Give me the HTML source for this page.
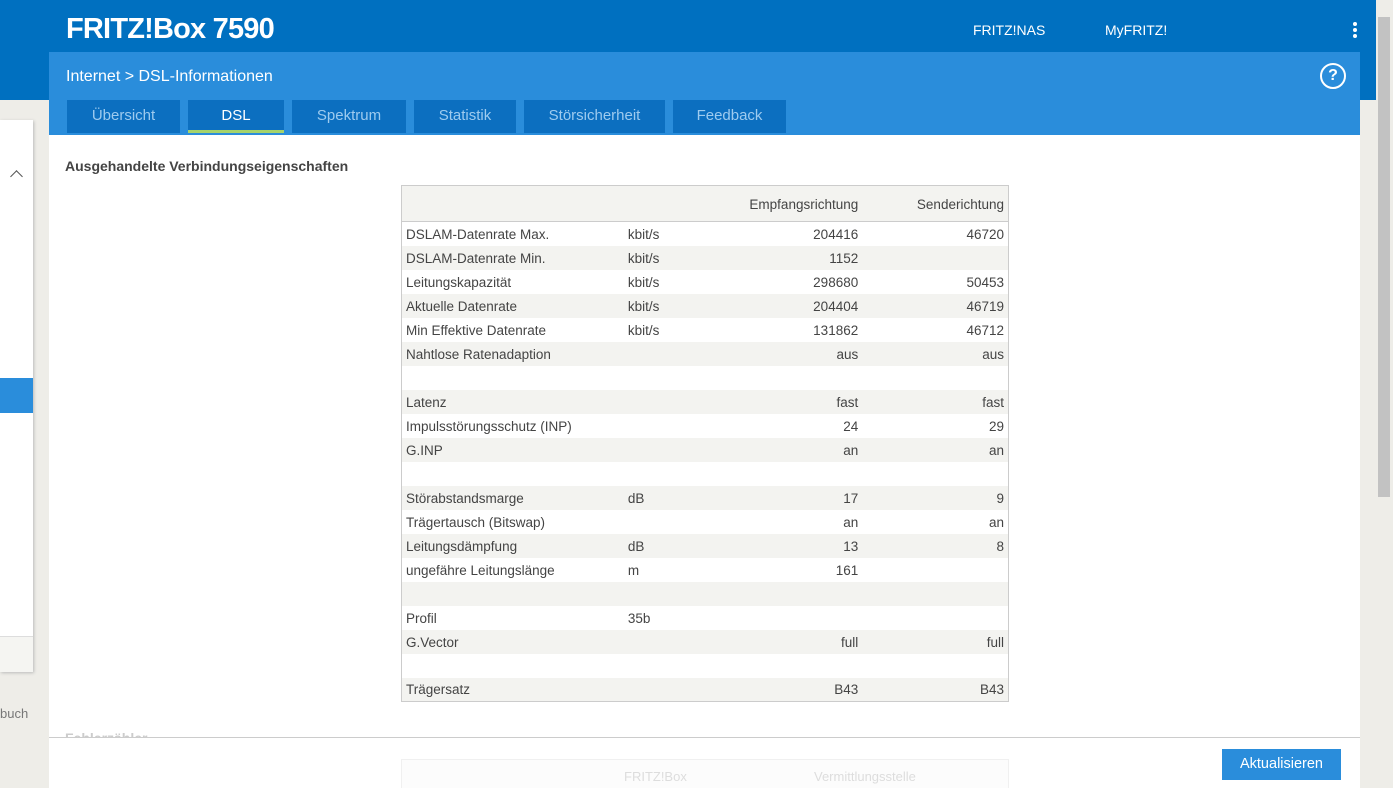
<!DOCTYPE html>
<html><head><meta charset="utf-8"><style>
*{margin:0;padding:0;box-sizing:border-box}
body{width:1393px;height:788px;overflow:hidden;background:#eeede8;font-family:"Liberation Sans",sans-serif;position:relative;color:#333}
.top{position:absolute;left:0;top:0;width:1376px;height:100px;background:#0070c0}
.logo{position:absolute;left:66px;top:13px;color:#fff;font-weight:bold;font-size:29px;letter-spacing:-0.8px}
.nav{position:absolute;top:22px;color:#fff;font-size:14px}
.dots{position:absolute;left:1353px;top:22px;width:5px}
.dots i{display:block;width:4px;height:4px;border-radius:2px;background:#fff;margin-bottom:2px}
.side{position:absolute;left:0;top:120px;width:33px;height:552px;background:#fff;box-shadow:1px 1px 3px #bbb}
.panel{position:absolute;left:49px;top:52px;width:1311px;height:736px;background:#fff}
.phead{position:absolute;left:0;top:0;width:1311px;height:83px;background:#2a8ddb}
.crumb{position:absolute;left:17px;top:16px;color:#fff;font-size:16px}
.help{position:absolute;left:1271px;top:11px;width:26px;height:26px;border:2px solid #fff;border-radius:50%;color:#fff;font-weight:bold;font-size:16px;text-align:center;line-height:22px}
.tab{position:absolute;top:48px;height:33px;background:#0c6fc0;color:#9ecbef;font-size:15px;text-align:center;line-height:32px}
.tab.act{color:#fff;border-bottom:3px solid #a6d36b}
h3{position:absolute;left:16px;top:106px;font-size:14px;font-weight:bold;color:#444}
table{position:absolute;left:352px;top:133px;width:608px;border:1px solid #ccc;border-collapse:collapse;font-size:13.5px;color:#444}
td{height:24px;padding:0 4px;white-space:nowrap;padding-top:1px}
tr.h td{height:36px;background:#f3f3f0;border-bottom:1px solid #ccc}
tr.g td{background:#f3f3f0}
td.r{text-align:right}
.foot{position:absolute;left:49px;top:737px;width:1311px;height:51px;background:#fff;border-top:1px solid #ccc;overflow:hidden}
.btn{position:absolute;left:1173px;top:11px;width:119px;height:31px;background:#2a8ddb;color:#fff;font-size:14.5px;text-align:center;line-height:31px}
.scroll{position:absolute;left:1376px;top:0;width:17px;height:788px;background:#eeede8}
.thumb{position:absolute;left:1378px;top:17px;width:12px;height:480px;background:#c2c2c2}
</style></head><body>
<div class="top"><div class="logo">FRITZ!Box 7590</div>
<div class="nav" style="left:973px">FRITZ!NAS</div><div class="nav" style="left:1105px">MyFRITZ!</div>
<div class="dots"><i></i><i></i><i></i></div></div>
<div class="side">
<div style="position:absolute;left:12px;top:52px;width:9px;height:9px;border-left:1.5px solid #555;border-top:1.5px solid #555;transform:rotate(45deg)"></div>
<div style="position:absolute;left:0;top:258px;width:33px;height:35px;background:#2a8ddb"></div>
<div style="position:absolute;left:0;top:516px;width:33px;height:36px;background:#f5f5f2;border-top:1px solid #ddd"></div>
</div>
<div style="position:absolute;left:0;top:706px;font-size:13px;color:#777">buch</div>
<div class="panel">
<div class="phead"><div class="crumb">Internet &gt; DSL-Informationen</div><div class="help">?</div>
<div class="tab" style="left:18px;width:113px">Übersicht</div>
<div class="tab act" style="left:139px;width:96px">DSL</div>
<div class="tab" style="left:243px;width:114px">Spektrum</div>
<div class="tab" style="left:365px;width:102px">Statistik</div>
<div class="tab" style="left:475px;width:141px">Störsicherheit</div>
<div class="tab" style="left:624px;width:113px">Feedback</div>
</div>
<h3>Ausgehandelte Verbindungseigenschaften</h3>
<table>
<col style="width:222px"><col style="width:90px"><col style="width:148px"><col style="width:146px">
<tr class="h"><td></td><td></td><td class="r">Empfangsrichtung</td><td class="r">Senderichtung</td></tr>
<tr><td>DSLAM-Datenrate Max.</td><td>kbit/s</td><td class="r">204416</td><td class="r">46720</td></tr>
<tr class="g"><td>DSLAM-Datenrate Min.</td><td>kbit/s</td><td class="r">1152</td><td class="r"></td></tr>
<tr><td>Leitungskapazität</td><td>kbit/s</td><td class="r">298680</td><td class="r">50453</td></tr>
<tr class="g"><td>Aktuelle Datenrate</td><td>kbit/s</td><td class="r">204404</td><td class="r">46719</td></tr>
<tr><td>Min Effektive Datenrate</td><td>kbit/s</td><td class="r">131862</td><td class="r">46712</td></tr>
<tr class="g"><td>Nahtlose Ratenadaption</td><td></td><td class="r">aus</td><td class="r">aus</td></tr>
<tr><td></td><td></td><td></td><td></td></tr>
<tr class="g"><td>Latenz</td><td></td><td class="r">fast</td><td class="r">fast</td></tr>
<tr><td>Impulsstörungsschutz (INP)</td><td></td><td class="r">24</td><td class="r">29</td></tr>
<tr class="g"><td>G.INP</td><td></td><td class="r">an</td><td class="r">an</td></tr>
<tr><td></td><td></td><td></td><td></td></tr>
<tr class="g"><td>Störabstandsmarge</td><td>dB</td><td class="r">17</td><td class="r">9</td></tr>
<tr><td>Trägertausch (Bitswap)</td><td></td><td class="r">an</td><td class="r">an</td></tr>
<tr class="g"><td>Leitungsdämpfung</td><td>dB</td><td class="r">13</td><td class="r">8</td></tr>
<tr><td>ungefähre Leitungslänge</td><td>m</td><td class="r">161</td><td class="r"></td></tr>
<tr class="g"><td></td><td></td><td></td><td></td></tr>
<tr><td>Profil</td><td>35b</td><td></td><td></td></tr>
<tr class="g"><td>G.Vector</td><td></td><td class="r">full</td><td class="r">full</td></tr>
<tr><td></td><td></td><td></td><td></td></tr>
<tr class="g"><td>Trägersatz</td><td></td><td class="r">B43</td><td class="r">B43</td></tr>
</table>
<div style="position:absolute;left:16px;top:678px;font-size:14px;font-weight:bold;color:#ccc">Fehlerzähler</div>
</div>
<div class="foot"><div class="btn">Aktualisieren</div>
<div style="position:absolute;left:352px;top:21px;width:608px;height:40px;border:1px solid #f0f0f0;background:#fcfcfc"></div>
<div style="position:absolute;left:575px;top:31px;font-size:13px;color:#ddd">FRITZ!Box</div>
<div style="position:absolute;left:765px;top:31px;font-size:13px;color:#ddd">Vermittlungsstelle</div>
</div>
<div class="scroll"></div><div class="thumb"></div>
</body></html>
